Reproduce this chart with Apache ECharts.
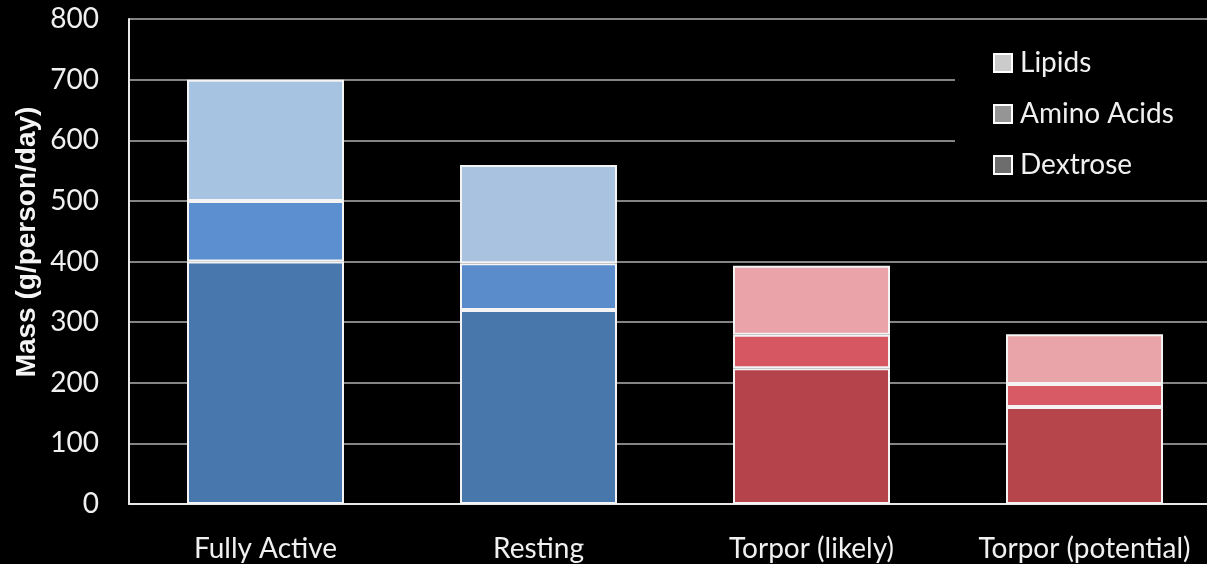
<!DOCTYPE html>
<html>
<head>
<meta charset="utf-8">
<script src="https://cdn.jsdelivr.net/npm/echarts@6/dist/echarts.min.js"></script>
<style>
html,body{margin:0;padding:0;background:#000;}
#c{width:1207px;height:564px;}
</style>
</head>
<body>
<div id="c"></div>
<script>
const categories = ['Fully Active', 'Resting', 'Torpor (likely)', 'Torpor (potential)'];
const dextrose = [400, 320, 224, 160];
const aminoAcids = [100, 77, 55, 38];
const lipids = [200, 162, 114, 82];
const yTicks = [0, 100, 200, 300, 400, 500, 600, 700, 800];
const yTitle = 'Mass (g/person/day)';

const palette = {
  Dextrose: ['#4777ad', '#4777ab', '#b5434b', '#b6454b'],
  'Amino Acids': ['#5b8fd0', '#5a8ccc', '#d65761', '#d85a64'],
  Lipids: ['#a6c3e2', '#a8c2e0', '#e9a3a9', '#e9a4aa']
};
const legendColors = { Lipids: '#cbcbcb', 'Amino Acids': '#959595', Dextrose: '#6d6d6d' };

function makeSeries(name, values) {
  return {
    name: name,
    type: 'bar',
    stack: 'total',
    barWidth: 157,
    itemStyle: { color: legendColors[name], borderColor: '#ffffff', borderWidth: 2 },
    data: values.map((v, i) => ({ value: v, itemStyle: { color: palette[name][i], borderColor: '#f4f4f4', borderWidth: 2 } })),
    emphasis: { disabled: true }
  };
}

const chart = echarts.init(document.getElementById('c'));
chart.setOption({
  backgroundColor: '#000',
  animation: false,
  grid: { left: 129, top: 19, width: 1092, height: 485, containLabel: false, outerBoundsMode: 'none' },
  legend: {
    orient: 'vertical',
    left: 955,
    top: 41,
    backgroundColor: '#000',
    padding: [8, 60, 8, 38],
    icon: 'rect',
    itemWidth: 18,
    itemHeight: 18,
    itemGap: 23,
    textStyle: { color: '#f0f0f0', fontSize: 28, fontFamily: 'Lato', padding: [0, 0, 0, 3] },
    data: [
      { name: 'Lipids', itemStyle: { color: legendColors.Lipids, borderColor: '#fff', borderWidth: 2 } },
      { name: 'Amino Acids', itemStyle: { color: legendColors['Amino Acids'], borderColor: '#fff', borderWidth: 2 } },
      { name: 'Dextrose', itemStyle: { color: legendColors.Dextrose, borderColor: '#fff', borderWidth: 2 } }
    ]
  },
  graphic: [{
    type: 'text',
    x: 27,
    y: 242,
    rotation: Math.PI / 2,
    style: {
      text: yTitle,
      fill: '#f4f4f4',
      fontSize: 28,
      fontWeight: 'bold',
      fontFamily: 'Liberation Sans',
      textAlign: 'center',
      textVerticalAlign: 'middle'
    }
  }],
  xAxis: {
    type: 'category',
    data: categories,
    axisLine: { lineStyle: { color: '#e8e8e8', width: 2 } },
    axisTick: { show: false },
    axisLabel: { color: '#f0f0f0', fontSize: 28, fontFamily: 'Lato', margin: 31, interval: 0 }
  },
  yAxis: {
    type: 'value',
    min: yTicks[0],
    max: yTicks[yTicks.length - 1],
    interval: 100,
    axisLine: { show: true, lineStyle: { color: '#e8e8e8', width: 2 } },
    axisTick: { show: false },
    axisLabel: { color: '#f0f0f0', fontSize: 28, fontFamily: 'Lato', margin: 30 },
    splitLine: { show: true, lineStyle: { color: '#b0b0b0', width: 1.5 } }
  },
  series: [
    makeSeries('Dextrose', dextrose),
    makeSeries('Amino Acids', aminoAcids),
    makeSeries('Lipids', lipids)
  ]
});
</script>
</body>
</html>
